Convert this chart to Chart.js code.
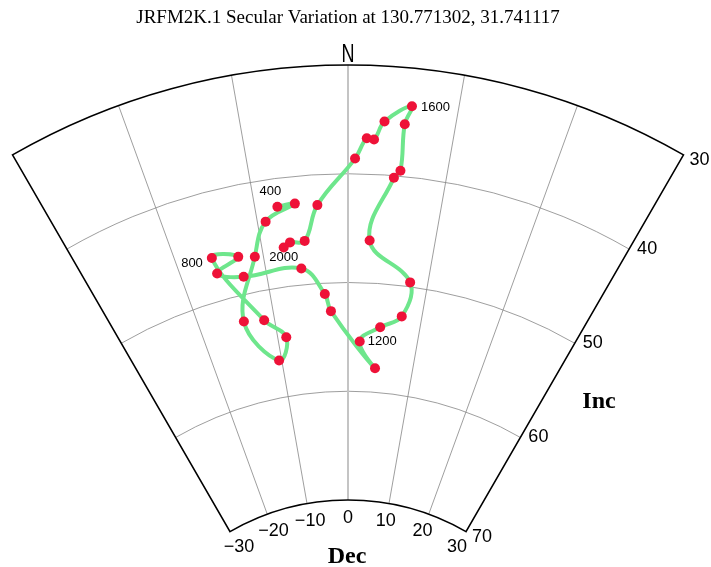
<!DOCTYPE html>
<html>
<head>
<meta charset="utf-8">
<script src="https://cdn.jsdelivr.net/npm/chart.js@4.4.1/dist/chart.umd.min.js"></script>
<style>
  html, body { margin: 0; padding: 0; background: #fff; }
</style>
</head>
<body>
<canvas id="sv" width="711" height="567"></canvas>
<script>
// JRFM2K.1 secular variation path, sampled every 50 years
const years = [400, 450, 500, 550, 600, 650, 700, 750, 800, 850, 900, 950, 1000, 1050, 1100, 1150,
               1200, 1250, 1300, 1350, 1400, 1450, 1500, 1550, 1600, 1650, 1700, 1750, 1800, 1850, 1900, 1950, 2000];
const decl = [-7.6, -5.7, -9.1, -11.0, -14.1, -10.4, -8.8, -11.4, -15.9, -12.9, -15.8, -12.8, -5.7, -3.0, -2.3, 4.2,
              1.7, 4.5, 7.3, 7.8, 2.5, 4.7, 5.3, 5.3, 5.8, 3.4, 2.5, 1.8, 0.7, -3.3, -5.0, -6.7, -7.5];
const incl = [42.6, 42.5, 43.8, 46.8, 52.4, 56.6, 54.6, 52.7, 46.0, 46.5, 47.5, 48.4, 48.5, 51.0, 52.6, 57.8,
              55.4, 54.0, 52.8, 49.6, 46.1, 40.2, 39.5, 35.2, 33.5, 35.1, 36.8, 36.7, 38.6, 42.8, 46.0, 46.0, 46.4];
const labelledYears = [400, 800, 1200, 1600, 2000];

const decTicks = [-30, -20, -10, 0, 10, 20, 30];
const incTicks = [30, 40, 50, 60, 70];

// fan geometry: Dec is the angle, Inc runs inward from the outer arc
const INC_OUTER = 30, INC_INNER = 70;
const RHO_OUTER = 61.7;          // apex -> Inc 30 arc, in inclination degrees
const PX_PER_DEG = 10.875;
const APEX_X = 348, APEX_Y = 736; // apex position on the canvas (below the picture)

function rho(inc) { return RHO_OUTER - (inc - INC_OUTER); }
function project(dec, inc) {
    const a = dec * Math.PI / 180, r = rho(inc);
    return { x: r * Math.sin(a), y: r * Math.cos(a) };
}

// label offsets next to their dots
const yearLabelPos = {
    400: [-7, -15, 'center'],
    800: [-9, 5, 'right'],
    1200: [8, 0, 'left'],
    1600: [9, 1, 'left'],
    2000: [0, 10, 'center']
};

const fanPlugin = {
    id: 'fan',
    beforeDatasetsDraw(chart) {
        const { ctx, scales: { x, y } } = chart;
        const cx = x.getPixelForValue(0), cy = y.getPixelForValue(0);
        const unit = x.getPixelForValue(1) - cx;
        const ang = d => (d - 90) * Math.PI / 180;
        const pt = (d, inc) => {
            const p = project(d, inc);
            return [x.getPixelForValue(p.x), y.getPixelForValue(p.y)];
        };
        const d0 = decTicks[0], d1 = decTicks[decTicks.length - 1];

        ctx.save();
        // inclination arcs
        ctx.strokeStyle = '#858585';
        ctx.lineWidth = 0.8;
        incTicks.slice(1, -1).forEach(inc => {
            ctx.beginPath();
            ctx.arc(cx, cy, rho(inc) * unit, ang(d0), ang(d1));
            ctx.stroke();
        });
        // declination spokes
        decTicks.slice(1, -1).forEach(d => {
            ctx.strokeStyle = d === 0 ? '#c4c4c4' : '#858585';
            ctx.lineWidth = d === 0 ? 2 : 0.8;
            const a = pt(d, INC_INNER), b = pt(d, INC_OUTER);
            ctx.beginPath();
            ctx.moveTo(a[0], a[1]);
            ctx.lineTo(b[0], b[1]);
            ctx.stroke();
        });
        // frame
        ctx.strokeStyle = '#000';
        ctx.lineWidth = 1.6;
        ctx.lineJoin = 'miter';
        ctx.beginPath();
        ctx.arc(cx, cy, rho(INC_OUTER) * unit, ang(d0), ang(d1));
        const c = pt(d1, INC_INNER);
        ctx.lineTo(c[0], c[1]);
        ctx.arc(cx, cy, rho(INC_INNER) * unit, ang(d1), ang(d0), true);
        ctx.closePath();
        ctx.stroke();
        ctx.restore();
    },
    afterDatasetsDraw(chart) {
        const { ctx, scales: { x, y } } = chart;
        const pt = (d, inc, extra) => {
            const a = d * Math.PI / 180, r = rho(inc) + (extra || 0);
            return [x.getPixelForValue(r * Math.sin(a)), y.getPixelForValue(r * Math.cos(a))];
        };
        ctx.save();
        ctx.fillStyle = '#000';

        // title
        ctx.font = "19px 'Liberation Serif'";
        ctx.textAlign = 'center';
        ctx.textBaseline = 'alphabetic';
        ctx.fillText('JRFM2K.1 Secular Variation at 130.771302, 31.741117', 348, 23);

        // N at top of the fan
        const n = pt(0, INC_OUTER, 0.2);
        ctx.save();
        ctx.translate(n[0], n[1]);
        ctx.scale(0.72, 1);
        ctx.font = "25px 'Liberation Sans'";
        ctx.fillText('N', 0, -1);
        ctx.restore();

        // declination tick labels
        ctx.font = "18px 'Liberation Sans'";
        ctx.textBaseline = 'middle';
        ctx.textAlign = 'center';
        decTicks.forEach(d => {
            const p = pt(d, INC_INNER, -1.65);
            ctx.fillText(String(d).replace('-', '\u2212'), p[0], p[1]);
        });

        // inclination tick labels along the right edge
        ctx.textAlign = 'left';
        incTicks.forEach(inc => {
            const p = pt(decTicks[decTicks.length - 1], inc);
            const corner = inc === INC_OUTER || inc === INC_INNER;
            ctx.fillText(String(inc), p[0] + (corner ? 6 : 8), p[1] + (corner ? 5 : 0));
        });

        // axis names
        ctx.font = "bold 24px 'Liberation Serif'";
        ctx.textAlign = 'center';
        ctx.textBaseline = 'alphabetic';
        ctx.fillText('Dec', 347, 563);
        ctx.fillText('Inc', 599, 408);

        // year labels
        const meta = chart.getDatasetMeta(0);
        ctx.font = "13px 'Liberation Sans'";
        ctx.textBaseline = 'middle';
        labelledYears.forEach(yr => {
            const i = years.indexOf(yr);
            const el = meta.data[i];
            const [dx, dy, align] = yearLabelPos[yr];
            ctx.textAlign = align;
            ctx.fillText(String(yr), el.x + dx, el.y + dy);
        });
        ctx.restore();
    }
};

new Chart(document.getElementById('sv'), {
    type: 'scatter',
    data: {
        datasets: [{
            data: years.map((yr, i) => project(decl[i], incl[i])),
            showLine: true,
            borderColor: '#6ee68c',
            borderWidth: 4,
            borderCapStyle: 'round',
            borderJoinStyle: 'round',
            tension: 0.4,
            pointRadius: 5,
            pointBackgroundColor: '#ee1238',
            pointBorderWidth: 0
        }]
    },
    options: {
        responsive: false,
        animation: false,
        events: [],
        layout: { padding: 0, autoPadding: false },
        plugins: {
            legend: { display: false },
            tooltip: { enabled: false }
        },
        scales: {
            x: { type: 'linear', display: false, min: -APEX_X / PX_PER_DEG, max: (711 - APEX_X) / PX_PER_DEG },
            y: { type: 'linear', display: false, min: (APEX_Y - 567) / PX_PER_DEG, max: APEX_Y / PX_PER_DEG }
        }
    },
    plugins: [fanPlugin]
});
</script>
</body>
</html>
